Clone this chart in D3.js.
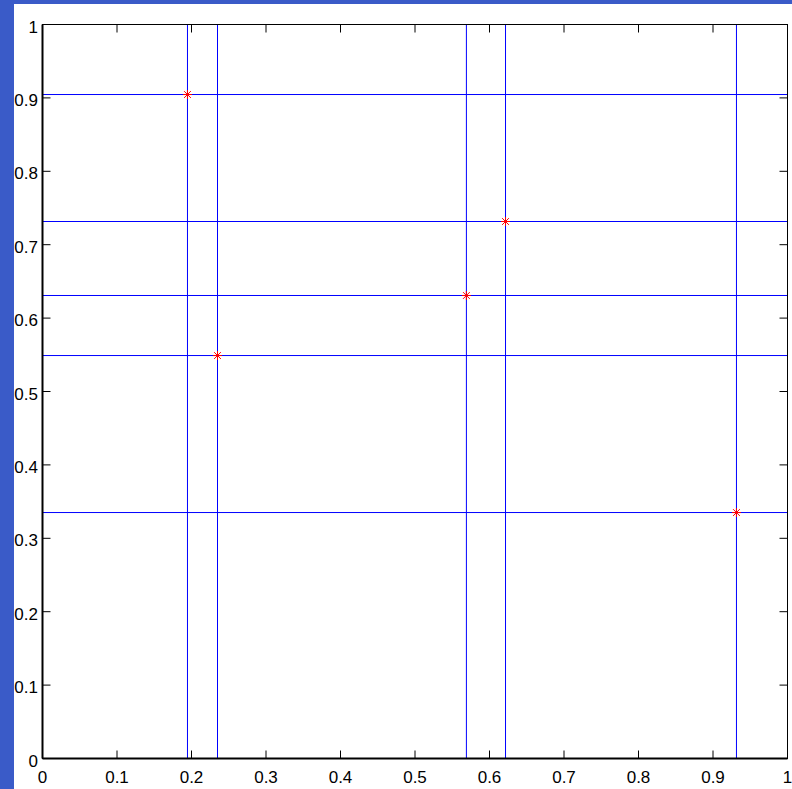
<!DOCTYPE html>
<html>
<head>
<meta charset="utf-8">
<script src="https://cdn.jsdelivr.net/npm/d3@7"></script>
<style>
  body { margin: 0; background: #3a5bc8; overflow: hidden; }
  text { font-family: "Liberation Sans", Arial, sans-serif; font-size: 17px; fill: #000; }
</style>
</head>
<body>
<script>
// points (x, y) picked from the figure
var pointX = [0.1946, 0.2349, 0.569, 0.6215, 0.9315];
var pointY = [0.9046, 0.549, 0.6308, 0.7316, 0.3351];
var xTicks = [0, 0.1, 0.2, 0.3, 0.4, 0.5, 0.6, 0.7, 0.8, 0.9, 1];
var yTicks = [0, 0.1, 0.2, 0.3, 0.4, 0.5, 0.6, 0.7, 0.8, 0.9, 1];

{
  const width = 792, height = 789;

  const svg = d3.select('body').append('svg')
      .attr('width', width)
      .attr('height', height);

  // white figure area
  svg.append('rect')
      .attr('x', 14).attr('y', 4)
      .attr('width', width - 14).attr('height', height - 4)
      .attr('fill', '#fff');

  const x = d3.scaleLinear().domain([0, 1]).range([42.5, 787.5]);
  const y = d3.scaleLinear().domain([0, 1]).range([758.5, 24.5]);

  const plot = svg.append('g');

  // vertical lines through each point
  plot.selectAll('line.v')
    .data(pointX)
    .enter().append('line')
      .attr('class', 'v')
      .attr('x1', function(d) { return x(d); })
      .attr('x2', function(d) { return x(d); })
      .attr('y1', y(0))
      .attr('y2', y(1))
      .attr('stroke', '#00f')
      .attr('stroke-width', 1);

  // horizontal lines
  plot.selectAll('line.h')
    .data(pointY)
    .enter().append('line')
      .attr('class', 'h')
      .attr('x1', x(0))
      .attr('x2', x(1))
      .attr('y1', function(d) { return y(d); })
      .attr('y2', function(d) { return y(d); })
      .attr('stroke', '#00f')
      .attr('stroke-width', 1);

  // red asterisk markers
  const r = 4.5;
  const star = 'M' + (-r) + ',0L' + r + ',0M0,' + (-r) + 'L0,' + r +
               'M' + (-r*0.75) + ',' + (-r*0.75) + 'L' + (r*0.75) + ',' + (r*0.75) +
               'M' + (-r*0.75) + ',' + (r*0.75) + 'L' + (r*0.75) + ',' + (-r*0.75);
  plot.selectAll('path.pt')
    .data(pointX)
    .enter().append('path')
      .attr('class', 'pt')
      .attr('d', star)
      .attr('transform', function(d, i) {
        return 'translate(' + x(d) + ',' + y(pointY[i]) + ')';
      })
      .attr('fill', 'none')
      .attr('stroke', '#f00')
      .attr('stroke-width', 1);

  // inside ticks on all four sides
  const tickLen = 8;
  const axes = svg.append('g').attr('stroke', '#000').attr('stroke-width', 1);

  xTicks.forEach(function(t) {
    axes.append('line')
      .attr('x1', x(t)).attr('x2', x(t))
      .attr('y1', y(0)).attr('y2', y(0) - tickLen);
    axes.append('line')
      .attr('x1', x(t)).attr('x2', x(t))
      .attr('y1', y(1)).attr('y2', y(1) + tickLen);
  });
  yTicks.forEach(function(t) {
    axes.append('line')
      .attr('x1', x(0)).attr('x2', x(0) + tickLen)
      .attr('y1', y(t)).attr('y2', y(t));
    axes.append('line')
      .attr('x1', x(1)).attr('x2', x(1) - tickLen)
      .attr('y1', y(t)).attr('y2', y(t));
  });

  // box
  axes.append('rect')
    .attr('x', x(0)).attr('y', y(1))
    .attr('width', x(1) - x(0))
    .attr('height', y(0) - y(1))
    .attr('fill', 'none');
  axes.append('line')
    .attr('x1', x(0)).attr('x2', x(1))
    .attr('y1', y(0)).attr('y2', y(0))
    .attr('stroke-width', 2);
  axes.append('line')
    .attr('x1', x(0)).attr('x2', x(0))
    .attr('y1', y(0)).attr('y2', y(1))
    .attr('stroke-width', 2);

  // tick labels
  svg.append('g').selectAll('text')
    .data(xTicks)
    .enter().append('text')
      .attr('x', function(d) { return x(d); })
      .attr('y', 783)
      .attr('text-anchor', 'middle')
      .text(function(d) { return d3.format('~g')(d); });

  svg.append('g').selectAll('text')
    .data(yTicks)
    .enter().append('text')
      .attr('x', 38)
      .attr('y', function(d) { return y(d) + 8; })
      .attr('text-anchor', 'end')
      .text(function(d) { return d3.format('~g')(d); });
}
</script>
</body>
</html>
